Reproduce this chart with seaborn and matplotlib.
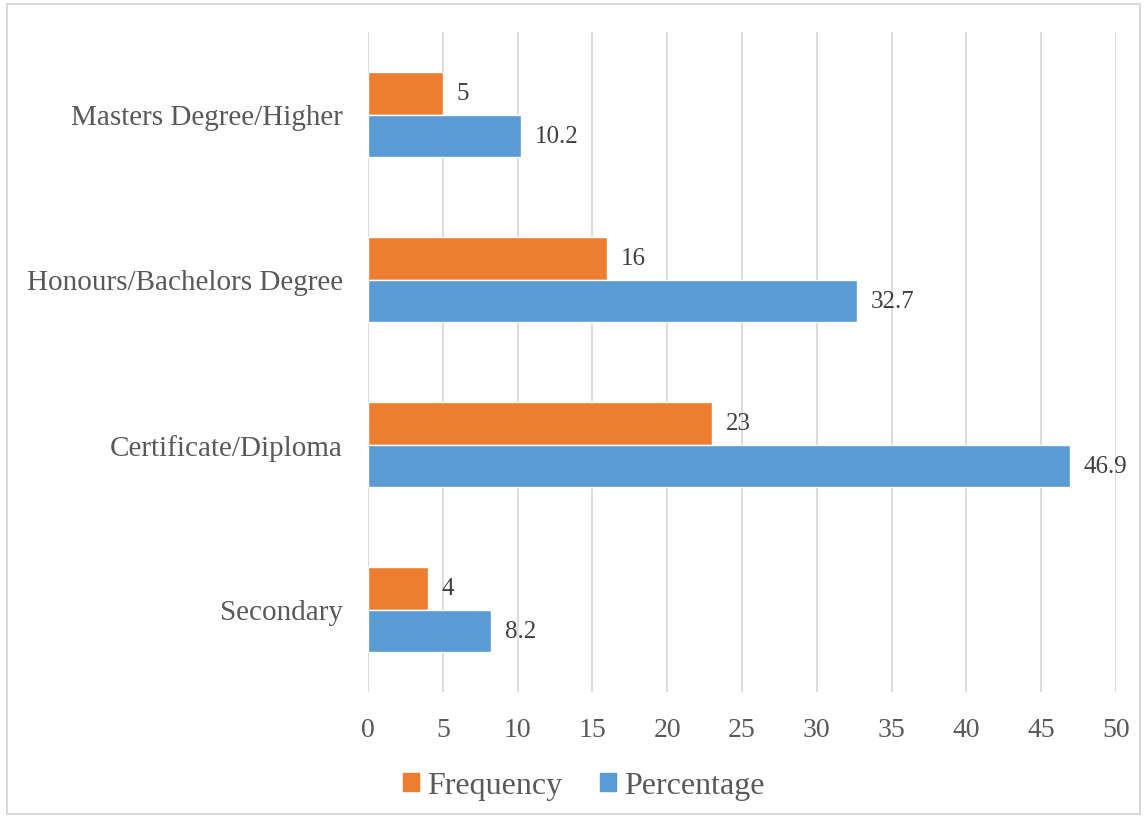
import matplotlib
matplotlib.use("Agg")
import matplotlib.pyplot as plt
import seaborn as sns
import pandas as pd
from matplotlib.patches import Rectangle

categories = ["Masters Degree/Higher", "Honours/Bachelors Degree", "Certificate/Diploma", "Secondary"]
frequency = [5, 16, 23, 4]
percentage = [10.2, 32.7, 46.9, 8.2]
series_names = ["Frequency", "Percentage"]
x_ticks = [0, 5, 10, 15, 20, 25, 30, 35, 40, 45, 50]

df = pd.DataFrame({
    "Category": categories * 2,
    "Value": frequency + percentage,
    "Series": [series_names[0]] * len(categories) + [series_names[1]] * len(categories),
})

sns.set_theme(style="white")
plt.rcParams["font.family"] = ["Liberation Serif", "DejaVu Serif"]
text_color = "#595959"
grid_color = "#D9D9D9"

fig = plt.figure(figsize=(11.47, 8.2), dpi=100)
ax = fig.add_axes([368 / 1147, 1 - 693 / 820, (1116 - 368) / 1147, (693 - 33) / 820])

palette = {"Frequency": "#ED7D31", "Percentage": "#5B9BD5"}
sns.barplot(data=df, y="Category", x="Value", hue="Series", order=categories,
            hue_order=series_names, palette=palette, orient="h", width=0.52,
            gap=0, saturation=1, ax=ax, legend=False)

for cont in ax.containers:
    ax.bar_label(cont, fmt="%g", padding=10, fontsize=18, color="#404040")

ax.set_xlim(0, 50)
ax.set_xticks(x_ticks)
ax.set_xlabel("")
ax.set_ylabel("")
ax.grid(axis="x", color=grid_color, linewidth=1.3)
ax.grid(axis="y", visible=False)
ax.set_axisbelow(True)
for s in ["top", "right", "bottom", "left"]:
    ax.spines[s].set_visible(False)
ax.tick_params(axis="x", length=0, pad=18, labelsize=20, labelcolor=text_color)
ax.tick_params(axis="y", length=0, pad=18, labelsize=21, labelcolor=text_color)

handles = [Rectangle((0, 0), 1, 1, color=palette[s]) for s in series_names]
fig.legend(handles, series_names, loc="center", bbox_to_anchor=(584 / 1147, 1 - 787 / 820),
           ncol=2, frameon=False, fontsize=23, labelcolor=text_color,
           handlelength=0.5, handleheight=0.5, handletextpad=0.25, columnspacing=1.2)

fig.patches.append(Rectangle((7 / 1147, 5 / 820), (1140 - 7) / 1147, (815 - 5) / 820,
                             transform=fig.transFigure, fill=False, edgecolor=grid_color,
                             linewidth=1.5))

fig.savefig("out.png", dpi=100)
